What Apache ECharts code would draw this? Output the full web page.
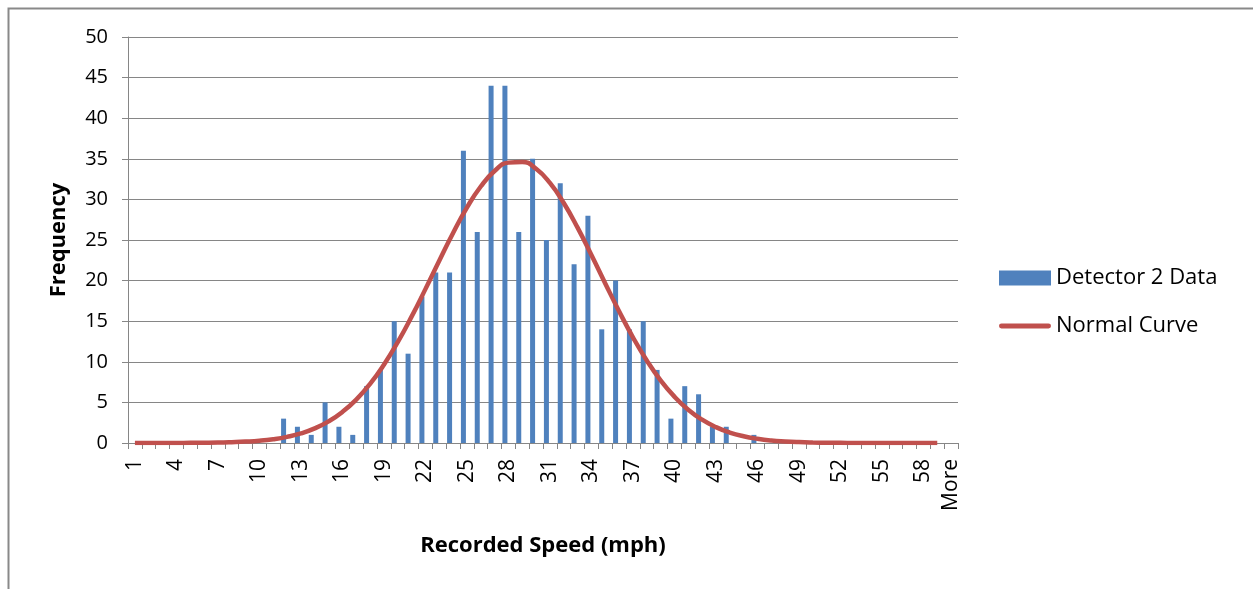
<!DOCTYPE html>
<html>
<head>
<meta charset="utf-8">
<title>Detector 2 Data</title>
<script src="https://cdn.jsdelivr.net/npm/echarts@6/dist/echarts.min.js"></script>
<style>
html, body { margin: 0; padding: 0; background: #fff; }
#myChart { width: 1253px; height: 589px; }
</style>
</head>
<body>
<div id="myChart"></div>
<script>
// speed bins 1..59 plus "More"
var speedBins = [];
for (var i = 1; i <= 59; i++) {
	speedBins.push(String(i));
}
speedBins.push('More');

// bar counts per bin
var detectorCounts = [
	0, 0, 0, 0, 0, 0, 0, 0, 0, 0,
	0, 3, 2, 1, 5, 2, 1, 7, 9, 15,
	11, 18, 21, 21, 36, 26, 44, 44, 26, 35,
	25, 32, 22, 28, 14, 20, 14, 15, 9, 3,
	7, 6, 2, 2, 0, 1, 0, 0, 0, 0,
	0, 0, 0, 0, 0, 0, 0, 0, 0, 0
];

// normal curve heights per bin (no point at "More")
var normalCurve = [
	0.00, 0.00, 0.00, 0.01, 0.02, 0.03, 0.05, 0.10, 0.17, 0.28,
	0.47, 0.76, 1.18, 1.80, 2.66, 3.83, 5.35, 7.28, 9.65, 12.42,
	15.56, 18.95, 22.45, 25.87, 28.99, 31.59, 33.49, 34.53, 34.62, 33.77,
	32.03, 29.55, 26.52, 23.15, 19.65, 16.22, 13.02, 10.17, 7.72, 5.71,
	4.10, 2.87, 1.95, 1.29, 0.83, 0.52, 0.31, 0.19, 0.11, 0.06,
	0.03, 0.02, 0.01, 0.00, 0.00, 0.00, 0.00, 0.00, 0.00, '-'
];

var seriesNames = ['Detector 2 Data', 'Normal Curve'];

var fontName = '"Open Sans", "Noto Sans", sans-serif';
var gridColor = '#868686';

// empty column series: Excel leaves room for it, so the real bars sit left of centre
var emptyCol = speedBins.map(function() { return '-'; });

var myChart = echarts.init(document.getElementById('myChart'));
var option = {
	animation : false,
	backgroundColor : '#ffffff',
	graphic : [{
		type : 'rect',
		left : 6,
		top : 6,
		shape : { width : 1400, height : 700 },
		style : { fill : 'none', stroke : '#898989', lineWidth : 2 },
		silent : true
	}],
	grid : {
		left : 128,
		right : 295,
		top : 37,
		bottom : 146,
		containLabel : false
	},
	legend : {
		orient : 'vertical',
		left : 999,
		top : 267,
		padding : 0,
		itemWidth : 52,
		itemHeight : 15,
		itemGap : 26,
		textStyle : { fontFamily : fontName, fontSize : 22, color : '#000' },
		data : [
			{ name : seriesNames[0], icon : 'rect' },
			{ name : seriesNames[1], icon : 'path://M2,0 L50,0 A2.5,2.5 0 0 1 50,5 L2,5 A2.5,2.5 0 0 1 2,0 Z' }
		]
	},
	xAxis : {
		type : 'category',
		data : speedBins,
		name : 'Recorded Speed (mph)',
		nameLocation : 'middle',
		nameGap : 92,
		nameTextStyle : { fontFamily : fontName, fontSize : 22, fontWeight : 'bold', color : '#000' },
		axisLine : { lineStyle : { color : gridColor, width : 1 } },
		axisTick : { show : true, interval : 0, length : 6, lineStyle : { color : gridColor } },
		axisLabel : {
			rotate : 90,
			interval : function(idx) {
				return idx % 3 === 0 || idx === speedBins.length - 1;
			},
			fontFamily : fontName,
			fontSize : 21,
			color : '#000',
			margin : 16
		},
		splitLine : { show : false }
	},
	yAxis : {
		type : 'value',
		min : 0,
		max : 50,
		interval : 5,
		name : 'Frequency',
		nameLocation : 'middle',
		nameGap : 58,
		nameRotate : 90,
		nameTextStyle : { fontFamily : fontName, fontSize : 22, fontWeight : 'bold', color : '#000' },
		axisLine : { show : true, lineStyle : { color : gridColor, width : 1 } },
		axisTick : { show : true, length : 6, lineStyle : { color : gridColor } },
		axisLabel : { fontFamily : fontName, fontSize : 20, color : '#000', margin : 20 },
		splitLine : { show : true, lineStyle : { color : gridColor, width : 1 } }
	},
	series : [{
		name : seriesNames[0],
		type : 'bar',
		data : detectorCounts,
		barWidth : 5,
		barGap : '40%',
		itemStyle : { color : '#4F81BD' }
	}, {
		name : 'gap',
		type : 'bar',
		data : emptyCol,
		barWidth : 5,
		silent : true
	}, {
		name : seriesNames[1],
		type : 'line',
		data : normalCurve,
		smooth : true,
		symbol : 'none',
		lineStyle : { color : '#C0504D', width : 4.5 },
		itemStyle : { color : '#C0504D' }
	}]
};
myChart.setOption(option);
</script>
</body>
</html>
